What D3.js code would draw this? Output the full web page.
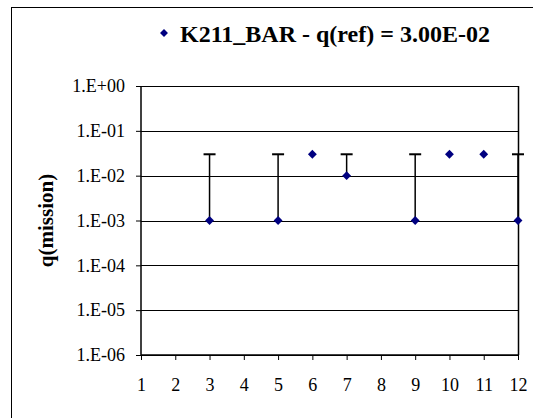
<!DOCTYPE html>
<html>
<head>
<meta charset="utf-8">
<script src="https://cdn.jsdelivr.net/npm/d3@7"></script>
<style>
  html, body { margin: 0; padding: 0; background: #fff; }
  svg { display: block; }
</style>
</head>
<body>
<svg id="chart" width="533" height="418"></svg>
<script>
// Mission index and failure probability per mission
const missions = [3, 5, 6, 7, 9, 10, 11, 12];
const qMission = [1e-3, 1e-3, 3e-2, 1e-2, 1e-3, 3e-2, 3e-2, 1e-3];
const qRef = 3.00e-2;
const xTicks = [1, 2, 3, 4, 5, 6, 7, 8, 9, 10, 11, 12];
const yTicks = [1e0, 1e-1, 1e-2, 1e-3, 1e-4, 1e-5, 1e-6];
const seriesName = "K211_BAR - q(ref) = 3.00E-02";
const yTitle = "q(mission)";

const FONT = "'Liberation Serif', 'Times New Roman', Times, serif";
const svg = d3.select("#chart");
const plot = { left: 141, top: 86, right: 518, bottom: 355 };
const navy = "#000080";

// Outer chart frame (runs off the right and bottom edges)
svg.append("rect")
  .attr("x", 11.5).attr("y", 7.5)
  .attr("width", 600).attr("height", 500)
  .attr("fill", "none").attr("stroke", "#000").attr("stroke-width", 1);

const x = d3.scaleLinear().domain([1, 12]).range([plot.left, plot.right]);
const y = d3.scaleLog().domain([1e-6, 1]).range([plot.bottom, plot.top]);

// Horizontal gridlines
svg.append("g")
  .selectAll("line")
  .data(yTicks)
  .join("line")
  .attr("x1", plot.left).attr("x2", plot.right)
  .attr("y1", d => Math.round(y(d)) + 0.5).attr("y2", d => Math.round(y(d)) + 0.5)
  .attr("stroke", "#000").attr("stroke-width", 1);

// Right edge of plot area
svg.append("line")
  .attr("x1", Math.round(plot.right) + 0.5).attr("x2", Math.round(plot.right) + 0.5)
  .attr("y1", plot.top).attr("y2", plot.bottom)
  .attr("stroke", "#000").attr("stroke-width", 1.5);

// Y axis
const yAxis = d3.axisLeft(y)
  .tickValues(yTicks)
  .tickSize(5)
  .tickPadding(11)
  .tickFormat(d => {
    const e = Math.round(Math.log10(d));
    const s = e >= 0 ? "+" : "-";
    return "1.E" + s + String(Math.abs(e)).padStart(2, "0");
  });
const gy = svg.append("g")
  .attr("transform", `translate(${plot.left},0)`)
  .call(yAxis);
gy.attr("font-family", null).attr("font-size", null);
gy.select(".domain").attr("stroke", "#000").attr("stroke-width", 1.5).attr("d", `M-0,${plot.top}V${plot.bottom}`);
gy.selectAll(".tick line").attr("stroke", "#000");
gy.selectAll(".tick text")
  .style("font-family", FONT)
  .style("font-size", "18px").attr("fill", "#000");

// X axis
const xAxis = d3.axisBottom(x)
  .tickValues(xTicks)
  .tickSize(5)
  .tickPadding(18)
  .tickFormat(d3.format("d"));
const gx = svg.append("g")
  .attr("transform", `translate(0,${plot.bottom})`)
  .call(xAxis);
gx.attr("font-family", null).attr("font-size", null);
gx.select(".domain").attr("stroke", "#000").attr("stroke-width", 1.5).attr("d", `M${plot.left},0H${plot.right}`);
gx.selectAll(".tick line").attr("stroke", "#000");
gx.selectAll(".tick text")
  .style("font-family", FONT)
  .style("font-size", "18px").attr("fill", "#000");

// Upper error bars reaching the reference value
const points = missions.map((m, i) => ({ m, q: qMission[i] }));
const bars = svg.append("g");
points.filter(p => p.q < qRef).forEach(p => {
  const cx = x(p.m);
  bars.append("line")
    .attr("x1", cx).attr("x2", cx)
    .attr("y1", y(p.q)).attr("y2", y(qRef))
    .attr("stroke", "#000").attr("stroke-width", 1.5);
  bars.append("line")
    .attr("x1", cx - 6).attr("x2", cx + 6)
    .attr("y1", y(qRef)).attr("y2", y(qRef))
    .attr("stroke", "#000").attr("stroke-width", 2);
});

// Diamond markers
const diamond = d3.symbol().type(d3.symbolDiamond2).size(50);
svg.append("g")
  .selectAll("path")
  .data(points)
  .join("path")
  .attr("d", diamond)
  .attr("transform", p => `translate(${x(p.m)},${y(p.q)})`)
  .attr("fill", navy);

// Legend
svg.append("path")
  .attr("d", d3.symbol().type(d3.symbolDiamond2).size(40))
  .attr("transform", "translate(164,33)")
  .attr("fill", navy);
svg.append("text")
  .attr("x", 180).attr("y", 42)
  .style("font-family", FONT)
  .style("font-size", "24px").style("font-weight", "bold")
  .attr("fill", "#000")
  .text(seriesName);

// Y axis title
svg.append("text")
  .attr("transform", `translate(53,${(plot.top + plot.bottom) / 2}) rotate(-90)`)
  .attr("text-anchor", "middle")
  .style("font-family", FONT)
  .style("font-size", "21px").style("font-weight", "bold")
  .attr("fill", "#000")
  .text(yTitle);
</script>
</body>
</html>
